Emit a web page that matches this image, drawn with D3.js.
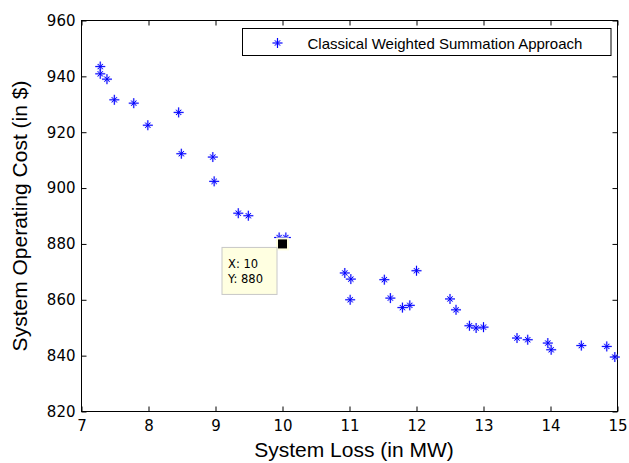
<!DOCTYPE html>
<meta charset="utf-8">
<style>
body { margin: 0; background: #fff; }
svg { display: block; }
.tick text { font-family: "DejaVu Sans", sans-serif; font-size: 15px; fill: #000; }
.tick line { stroke: #000; }
.label { font-family: "Liberation Sans", Arial, sans-serif; font-size: 21px; fill: #000; }
</style>
<body>
<svg id="chart" width="629" height="463"></svg>
<script src="https://d3js.org/d3.v7.min.js"></script>
<script>
// values
var lossMW = [7.28, 7.28, 7.38, 7.49, 7.78, 7.99, 8.45, 8.49, 8.96, 8.98,
  9.34, 9.49, 9.95, 10.05, 10.00, 10.93, 11.02, 11.01, 11.52, 12.00,
  11.61, 11.79, 11.90, 12.50, 12.59, 12.79, 12.89, 13.00, 13.50, 13.66,
  13.96, 14.01, 14.46, 14.84, 14.96];
var costUSD = [943.5, 940.9, 939.0, 931.6, 930.4, 922.5, 927.1, 912.3, 911.1, 902.4,
  891.0, 890.1, 882.3, 882.3, 880.0, 869.6, 867.4, 860.0, 867.2, 870.4,
  860.6, 857.2, 858.0, 860.3, 856.4, 850.7, 849.9, 850.2, 846.3, 845.7,
  844.5, 842.1, 843.6, 843.3, 839.5];
var xTicks = [7, 8, 9, 10, 11, 12, 13, 14, 15];
var yTicks = [820, 840, 860, 880, 900, 920, 940, 960];
var legendLabel = "Classical Weighted Summation Approach";
var tipPoint = [10, 880];

var svg = d3.select("#chart");
// plot box edges (half pixels for crisp 1px lines)
var pLeft = 81.5, pRight = 617.5, pTop = 20.5, pBottom = 411.5;

var x = d3.scaleLinear().domain([7, 15]).range([pLeft, pRight]);
var y = d3.scaleLinear().domain([820, 960]).range([pBottom, pTop]);

// axes, ticks pointing inward like matlab
svg.append("g").attr("transform", "translate(0," + pBottom + ")")
  .call(d3.axisBottom(x).tickValues(xTicks).tickSizeInner(-5).tickSizeOuter(0).tickPadding(9));
svg.append("g").attr("transform", "translate(" + pLeft + ",0)")
  .call(d3.axisLeft(y).tickValues(yTicks).tickSizeInner(-5).tickSizeOuter(0).tickPadding(6));
svg.append("g").attr("transform", "translate(0," + pTop + ")")
  .call(d3.axisTop(x).tickValues(xTicks).tickSizeInner(-5).tickSizeOuter(0).tickFormat(""));
svg.append("g").attr("transform", "translate(" + pRight + ",0)")
  .call(d3.axisRight(y).tickValues(yTicks).tickSizeInner(-5).tickSizeOuter(0).tickFormat(""));
svg.selectAll(".domain").remove();

svg.append("rect")
  .attr("x", pLeft).attr("y", pTop)
  .attr("width", pRight - pLeft).attr("height", pBottom - pTop)
  .attr("fill", "none").attr("stroke", "#000");

// asterisk marker: long + arms, short x arms
var star = "M-5,0h10M0,-5v10M-2.6,-2.6l5.2,5.2M-2.6,2.6l5.2,-5.2";
function drawStar(g) {
  g.append("path").attr("d", star).attr("stroke", "#9a9aff").attr("stroke-width", 2).attr("opacity", 0.45);
  g.append("path").attr("d", star).attr("stroke", "#0000ff").attr("stroke-width", 1);
}

var pts = svg.append("g").selectAll("g")
  .data(d3.range(lossMW.length))
  .enter().append("g")
  .attr("transform", function (i) { return "translate(" + x(lossMW[i]) + "," + y(costUSD[i]) + ")"; });
pts.each(function () { drawStar(d3.select(this)); });

// legend
var leg = svg.append("g");
leg.append("rect").attr("x", 242.5).attr("y", 28.5).attr("width", 368.5).attr("height", 27)
  .attr("fill", "#fff").attr("stroke", "#000");
drawStar(leg.append("g").attr("transform", "translate(277.5,43)"));
leg.append("text").attr("x", 307.5).attr("y", 48.5)
  .style("font-family", "'Liberation Sans', Arial, sans-serif").style("font-size", "15px")
  .text(legendLabel);

// data tip
var px = x(tipPoint[0]), py = y(tipPoint[1]);
svg.append("rect").attr("x", px - 6.5).attr("y", py - 6.5).attr("width", 13).attr("height", 13).attr("fill", "#ffffe0");
svg.append("rect").attr("x", px - 4.5).attr("y", py - 4.5).attr("width", 9).attr("height", 9).attr("fill", "#000");
var tip = svg.append("g").attr("transform", "translate(" + (px - 61) + "," + (py + 3) + ")");
tip.append("rect").attr("x", 0.5).attr("y", 0.5).attr("width", 55).attr("height", 47)
  .attr("fill", "#ffffe1").attr("stroke", "#c8c8c8");
tip.selectAll("text").data(["X: " + tipPoint[0], "Y: " + tipPoint[1]]).enter().append("text")
  .attr("x", 6.5).attr("y", function (d, i) { return 21.5 + i * 15; })
  .style("font-family", "'DejaVu Sans', sans-serif").style("font-size", "11.5px")
  .text(function (d) { return d; });

// axis titles
svg.append("text").attr("class", "label").attr("x", 354).attr("y", 457)
  .attr("text-anchor", "middle").text("System Loss (in MW)");
svg.append("text").attr("class", "label")
  .attr("transform", "translate(27," + ((pTop + pBottom) / 2) + ")rotate(-90)")
  .attr("text-anchor", "middle").text("System Operating Cost (in $)");
</script>
</body>
